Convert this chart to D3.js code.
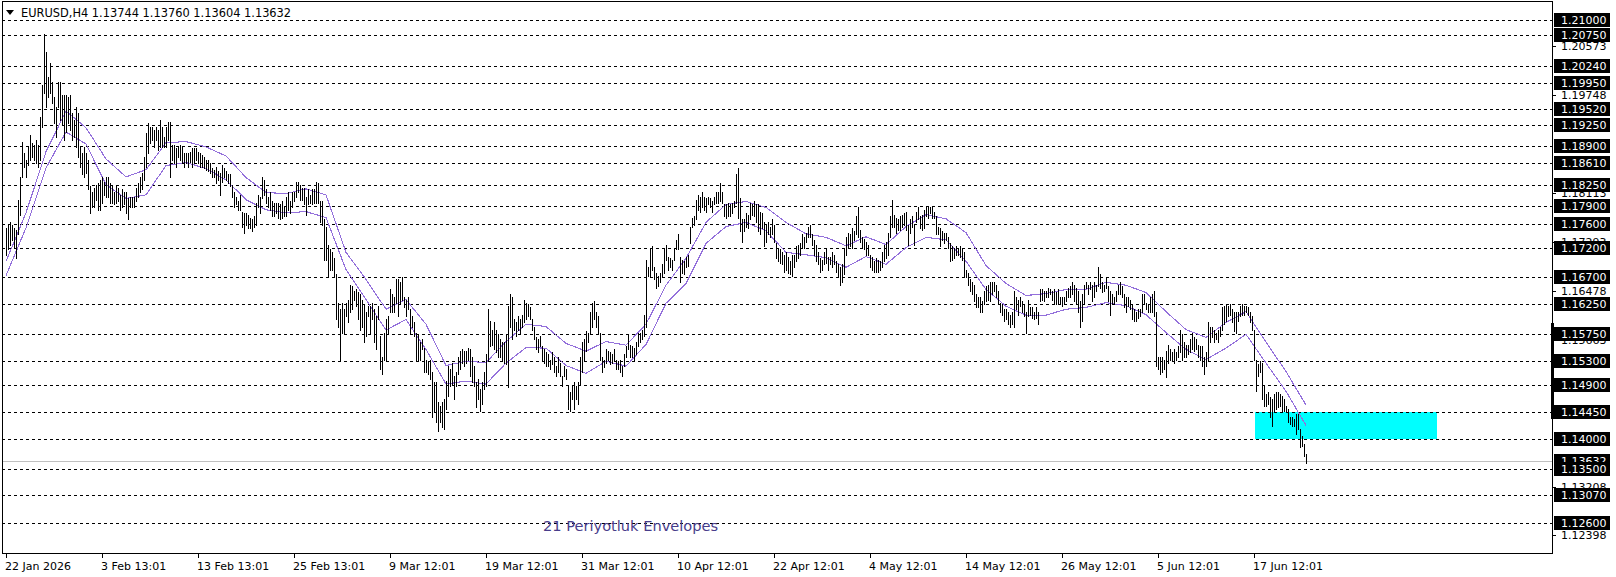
<!DOCTYPE html>
<html><head><meta charset="utf-8">
<script src="https://cdn.jsdelivr.net/npm/d3@7/dist/d3.min.js"></script>
<style>
html,body{margin:0;padding:0;background:#fff;}
svg{display:block;}
text{font-family:"DejaVu Sans",sans-serif;}
</style></head>
<body>
<svg id="chart" width="1616" height="577"></svg>
<script>
// ---------- DATA ----------
const symbolTitle = "EURUSD,H4  1.13744 1.13760 1.13604 1.13632";
const barHigh = [
1.1753,1.1758,1.1763,1.1757,1.1753,1.1750,1.1800,1.1837,1.1897,1.1878,
1.1867,1.1888,1.1908,1.1895,1.1892,1.1900,1.1892,1.1938,1.1992,1.2077,
1.2047,1.2005,1.2028,1.1997,1.1972,1.1955,1.1997,1.1997,1.1975,1.1975,
1.1975,1.1972,1.1975,1.1945,1.1933,1.1955,1.1945,1.1888,1.1878,1.1888,
1.1878,1.1867,1.1822,1.1812,1.1820,1.1825,1.1828,1.1833,1.1838,1.1830,
1.1838,1.1838,1.1828,1.1822,1.1812,1.1822,1.1820,1.1808,1.1817,1.1812,
1.1812,1.1803,1.1805,1.1805,1.1805,1.1820,1.1828,1.1838,1.1845,1.1872,
1.1912,1.1928,1.1922,1.1922,1.1917,1.1922,1.1917,1.1933,1.1922,1.1905,
1.1922,1.1930,1.1930,1.1892,1.1892,1.1887,1.1888,1.1892,1.1888,1.1878,
1.1878,1.1878,1.1880,1.1887,1.1887,1.1887,1.1880,1.1878,1.1875,1.1872,
1.1867,1.1867,1.1862,1.1853,1.1850,1.1855,1.1847,1.1845,1.1858,1.1853,
1.1848,1.1842,1.1842,1.1822,1.1812,1.1805,1.1797,1.1808,1.1780,1.1778,
1.1778,1.1775,1.1770,1.1767,1.1772,1.1795,1.1808,1.1805,1.1837,1.1833,
1.1817,1.1805,1.1812,1.1797,1.1795,1.1795,1.1795,1.1792,1.1797,1.1787,
1.1805,1.1812,1.1797,1.1812,1.1813,1.1830,1.1830,1.1825,1.1820,1.1820,
1.1805,1.1817,1.1808,1.1817,1.1817,1.1830,1.1828,1.1797,1.1797,1.1767,
1.1755,1.1725,1.1717,1.1712,1.1703,1.1675,1.1628,1.1617,1.1628,1.1617,
1.1628,1.1633,1.1658,1.1655,1.1647,1.1650,1.1645,1.1642,1.1633,1.1625,
1.1613,1.1622,1.1622,1.1628,1.1617,1.1605,1.1622,1.1572,1.1538,1.1578,
1.1600,1.1605,1.1650,1.1642,1.1638,1.1667,1.1667,1.1662,1.1670,1.1637,
1.1633,1.1637,1.1617,1.1605,1.1595,1.1578,1.1575,1.1562,1.1567,1.1553,
1.1533,1.1530,1.1533,1.1512,1.1495,1.1495,1.1462,1.1455,1.1462,1.1467,
1.1497,1.1522,1.1517,1.1528,1.1505,1.1512,1.1538,1.1547,1.1550,1.1547,
1.1547,1.1553,1.1550,1.1537,1.1522,1.1495,1.1500,1.1483,1.1495,1.1512,
1.1542,1.1617,1.1597,1.1583,1.1595,1.1583,1.1575,1.1567,1.1563,1.1562,
1.1575,1.1622,1.1642,1.1638,1.1600,1.1595,1.1605,1.1600,1.1608,1.1633,
1.1628,1.1625,1.1620,1.1600,1.1587,1.1570,1.1567,1.1572,1.1555,1.1550,
1.1545,1.1542,1.1533,1.1545,1.1538,1.1522,1.1538,1.1528,1.1505,1.1522,
1.1517,1.1488,1.1478,1.1488,1.1495,1.1488,1.1495,1.1538,1.1562,1.1567,
1.1580,1.1578,1.1613,1.1628,1.1630,1.1612,1.1605,1.1578,1.1538,1.1533,
1.1550,1.1547,1.1545,1.1542,1.1550,1.1533,1.1530,1.1533,1.1522,1.1542,
1.1555,1.1575,1.1558,1.1555,1.1553,1.1563,1.1578,1.1578,1.1583,1.1608,
1.1700,1.1688,1.1717,1.1722,1.1688,1.1678,1.1672,1.1678,1.1692,1.1717,
1.1725,1.1705,1.1703,1.1700,1.1717,1.1733,1.1742,1.1705,1.1700,1.1697,
1.1705,1.1707,1.1755,1.1770,1.1772,1.1800,1.1808,1.1805,1.1813,1.1805,
1.1803,1.1805,1.1803,1.1797,1.1805,1.1812,1.1813,1.1828,1.1813,1.1792,
1.1792,1.1795,1.1792,1.1795,1.1797,1.1842,1.1853,1.1803,1.1767,1.1767,
1.1778,1.1775,1.1795,1.1792,1.1797,1.1792,1.1792,1.1780,1.1778,1.1763,
1.1758,1.1762,1.1755,1.1767,1.1758,1.1728,1.1720,1.1717,1.1713,1.1708,
1.1713,1.1705,1.1697,1.1708,1.1708,1.1722,1.1725,1.1728,1.1742,1.1737,
1.1745,1.1755,1.1758,1.1742,1.1733,1.1725,1.1713,1.1703,1.1700,1.1712,
1.1720,1.1705,1.1705,1.1712,1.1708,1.1697,1.1692,1.1687,1.1692,1.1720,
1.1738,1.1745,1.1742,1.1753,1.1747,1.1772,1.1788,1.1750,1.1738,1.1735,
1.1730,1.1725,1.1708,1.1705,1.1697,1.1703,1.1700,1.1697,1.1712,1.1725,
1.1730,1.1745,1.1772,1.1800,1.1775,1.1770,1.1767,1.1772,1.1775,1.1778,
1.1780,1.1758,1.1767,1.1772,1.1758,1.1780,1.1788,1.1772,1.1775,1.1783,
1.1787,1.1788,1.1788,1.1788,1.1780,1.1772,1.1755,1.1753,1.1747,1.1745,
1.1745,1.1738,1.1728,1.1722,1.1720,1.1722,1.1720,1.1722,1.1717,1.1712,
1.1683,1.1678,1.1667,1.1662,1.1658,1.1642,1.1638,1.1638,1.1630,1.1647,
1.1655,1.1658,1.1663,1.1662,1.1663,1.1658,1.1647,1.1628,1.1625,1.1617,
1.1617,1.1612,1.1608,1.1613,1.1647,1.1637,1.1633,1.1638,1.1630,1.1625,
1.1612,1.1633,1.1620,1.1620,1.1613,1.1620,1.1613,1.1650,1.1650,1.1647,
1.1647,1.1653,1.1650,1.1647,1.1650,1.1645,1.1650,1.1638,1.1637,1.1637,
1.1647,1.1653,1.1655,1.1663,1.1658,1.1653,1.1647,1.1630,1.1642,1.1658,
1.1663,1.1658,1.1662,1.1658,1.1662,1.1658,1.1688,1.1675,1.1663,1.1658,
1.1670,1.1655,1.1647,1.1642,1.1637,1.1647,1.1658,1.1662,1.1655,1.1642,
1.1638,1.1637,1.1633,1.1625,1.1617,1.1613,1.1617,1.1617,1.1642,1.1642,
1.1628,1.1625,1.1638,1.1642,1.1647,1.1613,1.1538,1.1537,1.1538,1.1533,
1.1547,1.1558,1.1550,1.1545,1.1550,1.1545,1.1555,1.1583,1.1575,1.1563,
1.1558,1.1558,1.1567,1.1578,1.1570,1.1567,1.1558,1.1555,1.1555,1.1537,
1.1545,1.1595,1.1588,1.1588,1.1583,1.1578,1.1583,1.1588,1.1620,1.1622,
1.1625,1.1622,1.1625,1.1617,1.1613,1.1612,1.1613,1.1622,1.1625,1.1622,
1.1622,1.1620,1.1613,1.1605,1.1583,1.1533,1.1525,1.1530,1.1528,1.1488,
1.1475,1.1478,1.1470,1.1467,1.1475,1.1478,1.1478,1.1475,1.1472,1.1467,
1.1455,1.1450,1.1437,1.1437,1.1433,1.1442,1.1442,1.1417,1.1405,1.1392,1.1376
];
const barLow = [
1.1708,1.1717,1.1725,1.1733,1.1720,1.1703,1.1742,1.1775,1.1838,1.1855,
1.1838,1.1858,1.1867,1.1872,1.1867,1.1862,1.1855,1.1867,1.1922,1.1978,
1.1955,1.1972,1.1978,1.1962,1.1928,1.1905,1.1955,1.1933,1.1925,1.1900,
1.1913,1.1928,1.1917,1.1900,1.1905,1.1888,1.1872,1.1855,1.1842,1.1838,
1.1845,1.1817,1.1778,1.1788,1.1787,1.1800,1.1783,1.1783,1.1795,1.1808,
1.1805,1.1805,1.1795,1.1795,1.1792,1.1795,1.1797,1.1783,1.1787,1.1792,
1.1778,1.1767,1.1788,1.1788,1.1787,1.1797,1.1805,1.1813,1.1817,1.1833,
1.1855,1.1878,1.1895,1.1900,1.1888,1.1900,1.1883,1.1888,1.1888,1.1888,
1.1888,1.1900,1.1838,1.1867,1.1862,1.1855,1.1872,1.1867,1.1862,1.1855,
1.1862,1.1855,1.1863,1.1855,1.1863,1.1867,1.1862,1.1855,1.1855,1.1853,
1.1850,1.1847,1.1845,1.1838,1.1837,1.1828,1.1833,1.1808,1.1830,1.1837,
1.1833,1.1828,1.1822,1.1805,1.1787,1.1792,1.1783,1.1783,1.1755,1.1745,
1.1758,1.1753,1.1753,1.1747,1.1755,1.1758,1.1788,1.1778,1.1803,1.1808,
1.1795,1.1787,1.1783,1.1772,1.1772,1.1778,1.1770,1.1767,1.1770,1.1772,
1.1772,1.1783,1.1778,1.1788,1.1797,1.1805,1.1813,1.1800,1.1800,1.1792,
1.1775,1.1792,1.1795,1.1792,1.1795,1.1795,1.1795,1.1763,1.1758,1.1700,
1.1700,1.1672,1.1683,1.1683,1.1672,1.1600,1.1588,1.1533,1.1578,1.1578,
1.1605,1.1595,1.1613,1.1617,1.1633,1.1622,1.1600,1.1583,1.1588,1.1562,
1.1572,1.1605,1.1578,1.1600,1.1562,1.1550,1.1600,1.1517,1.1508,1.1533,
1.1533,1.1578,1.1612,1.1612,1.1612,1.1628,1.1605,1.1628,1.1633,1.1620,
1.1605,1.1617,1.1578,1.1588,1.1572,1.1533,1.1533,1.1533,1.1550,1.1513,
1.1512,1.1508,1.1500,1.1437,1.1445,1.1428,1.1413,1.1428,1.1420,1.1417,
1.1450,1.1472,1.1488,1.1492,1.1467,1.1488,1.1508,1.1517,1.1528,1.1522,
1.1528,1.1533,1.1505,1.1495,1.1488,1.1453,1.1467,1.1447,1.1458,1.1483,
1.1488,1.1533,1.1555,1.1558,1.1550,1.1545,1.1538,1.1538,1.1533,1.1528,
1.1525,1.1487,1.1588,1.1567,1.1583,1.1572,1.1583,1.1578,1.1588,1.1595,
1.1600,1.1605,1.1600,1.1583,1.1567,1.1550,1.1545,1.1555,1.1533,1.1528,
1.1522,1.1522,1.1517,1.1525,1.1512,1.1505,1.1512,1.1505,1.1488,1.1505,
1.1500,1.1450,1.1447,1.1467,1.1450,1.1467,1.1458,1.1492,1.1512,1.1533,
1.1547,1.1562,1.1578,1.1588,1.1600,1.1588,1.1578,1.1533,1.1512,1.1520,
1.1528,1.1533,1.1525,1.1528,1.1533,1.1517,1.1517,1.1512,1.1505,1.1522,
1.1537,1.1550,1.1538,1.1538,1.1533,1.1542,1.1555,1.1562,1.1567,1.1572,
1.1588,1.1672,1.1670,1.1683,1.1667,1.1653,1.1655,1.1662,1.1672,1.1678,
1.1700,1.1683,1.1687,1.1683,1.1700,1.1717,1.1717,1.1663,1.1678,1.1675,
1.1688,1.1690,1.1728,1.1755,1.1758,1.1767,1.1783,1.1780,1.1788,1.1783,
1.1780,1.1792,1.1787,1.1780,1.1792,1.1795,1.1795,1.1797,1.1795,1.1772,
1.1770,1.1772,1.1772,1.1778,1.1787,1.1795,1.1770,1.1747,1.1730,1.1747,
1.1755,1.1753,1.1767,1.1775,1.1772,1.1763,1.1747,1.1742,1.1753,1.1722,
1.1730,1.1742,1.1737,1.1742,1.1730,1.1703,1.1697,1.1695,1.1692,1.1680,
1.1683,1.1678,1.1675,1.1672,1.1687,1.1697,1.1703,1.1708,1.1720,1.1720,
1.1730,1.1737,1.1738,1.1725,1.1708,1.1697,1.1692,1.1680,1.1683,1.1692,
1.1695,1.1683,1.1692,1.1687,1.1692,1.1680,1.1670,1.1658,1.1662,1.1675,
1.1708,1.1720,1.1722,1.1720,1.1733,1.1742,1.1737,1.1730,1.1720,1.1717,
1.1708,1.1708,1.1687,1.1683,1.1680,1.1680,1.1680,1.1683,1.1687,1.1697,
1.1703,1.1708,1.1738,1.1755,1.1755,1.1745,1.1750,1.1750,1.1755,1.1758,
1.1750,1.1725,1.1745,1.1755,1.1725,1.1763,1.1767,1.1753,1.1750,1.1753,
1.1772,1.1770,1.1778,1.1770,1.1770,1.1742,1.1742,1.1722,1.1733,1.1728,
1.1732,1.1720,1.1697,1.1700,1.1703,1.1708,1.1708,1.1705,1.1700,1.1672,
1.1670,1.1658,1.1647,1.1642,1.1630,1.1620,1.1620,1.1612,1.1612,1.1625,
1.1630,1.1633,1.1630,1.1642,1.1647,1.1637,1.1625,1.1613,1.1608,1.1597,
1.1600,1.1592,1.1587,1.1592,1.1587,1.1617,1.1608,1.1622,1.1613,1.1605,
1.1578,1.1605,1.1608,1.1603,1.1600,1.1603,1.1592,1.1630,1.1633,1.1630,
1.1637,1.1638,1.1642,1.1633,1.1628,1.1625,1.1625,1.1625,1.1622,1.1628,
1.1630,1.1638,1.1637,1.1642,1.1630,1.1625,1.1613,1.1588,1.1597,1.1628,
1.1653,1.1642,1.1650,1.1630,1.1638,1.1647,1.1655,1.1653,1.1645,1.1647,
1.1653,1.1630,1.1608,1.1628,1.1625,1.1630,1.1642,1.1642,1.1637,1.1620,
1.1613,1.1622,1.1617,1.1600,1.1597,1.1597,1.1603,1.1605,1.1613,1.1625,
1.1617,1.1612,1.1612,1.1612,1.1605,1.1522,1.1517,1.1508,1.1512,1.1517,
1.1503,1.1528,1.1533,1.1530,1.1528,1.1533,1.1538,1.1545,1.1533,1.1538,
1.1538,1.1542,1.1545,1.1550,1.1547,1.1550,1.1538,1.1533,1.1522,1.1508,
1.1522,1.1533,1.1563,1.1570,1.1562,1.1567,1.1563,1.1572,1.1583,1.1592,
1.1597,1.1605,1.1608,1.1595,1.1580,1.1578,1.1597,1.1605,1.1608,1.1608,
1.1612,1.1608,1.1595,1.1583,1.1533,1.1480,1.1505,1.1513,1.1467,1.1455,
1.1455,1.1458,1.1437,1.1422,1.1445,1.1450,1.1453,1.1455,1.1445,1.1447,
1.1445,1.1428,1.1425,1.1422,1.1422,1.1408,1.1417,1.1387,1.1388,1.1372,1.1360
];
// Envelope (21) upper / lower band, read every 10 bars
const envStep = 10;
const envUpper = [
1.1697,1.1778,1.1880,1.1948,1.1920,1.1868,1.1838,1.1850,1.1895,1.1897,
1.1888,1.1873,1.1837,1.1812,1.1810,1.1818,1.1808,1.1712,1.1667,1.1617,
1.1633,1.1592,1.1523,1.1530,1.1528,1.1563,1.1592,1.1588,1.1560,1.1547,
1.1563,1.1557,1.1592,1.1657,1.1702,1.1762,1.1792,1.1797,1.1787,1.1762,
1.1743,1.1737,1.1723,1.1738,1.1725,1.1755,1.1775,1.1768,1.1745,1.1690,
1.1660,1.1640,1.1643,1.1650,1.1650,1.1662,1.1657,1.1645,1.1613,1.1583,
1.1570,1.1595,1.1613,1.1562,1.1513,1.1457];
const envLower = [
1.1673,1.1753,1.1853,1.1913,1.1893,1.1825,1.1802,1.1808,1.1857,1.1862,
1.1852,1.1833,1.1800,1.1783,1.1778,1.1780,1.1770,1.1683,1.1633,1.1582,
1.1600,1.1550,1.1492,1.1497,1.1492,1.1527,1.1553,1.1552,1.1523,1.1510,
1.1530,1.1522,1.1558,1.1627,1.1660,1.1727,1.1755,1.1762,1.1748,1.1712,
1.1708,1.1703,1.1687,1.1705,1.1692,1.1720,1.1737,1.1733,1.1697,1.1650,
1.1622,1.1607,1.1607,1.1617,1.1620,1.1628,1.1623,1.1608,1.1578,1.1550,
1.1533,1.1552,1.1575,1.1527,1.1480,1.1423];
const levelPrices = [1.21000,1.20750,1.20240,1.19950,1.19520,1.19250,1.18900,1.18610,1.18250,1.17900,1.17600,1.17200,1.16700,1.16250,1.15750,1.15300,1.14900,1.14450,1.14000,1.13500,1.13070,1.12600];
const axisTicks = [1.20573,1.19748,1.18113,1.17293,1.16478,1.15663,1.13208,1.12398];
const bidPrice = 1.13632;
const zoneTop = 1.14450, zoneBottom = 1.14000, zoneFrom = 624.5, zoneTo = 715.5;
const axisMarkTop = 1.1594, axisMarkBottom = 1.1434;
const dateLabels = ["22 Jan 2026","3 Feb 13:01","13 Feb 13:01","25 Feb 13:01","9 Mar 12:01","19 Mar 12:01","31 Mar 12:01","10 Apr 12:01","22 Apr 12:01","4 May 12:01","14 May 12:01","26 May 12:01","5 Jun 12:01","17 Jun 12:01"];
const dateStep = 48;
const noteText = "21 Periyotluk Envelopes";

// ---------- SCALES ----------
const svg = d3.select("#chart");
const L = 2, R = 1552, T = 1, B = 553;
const x = d3.scaleLinear().domain([0, barHigh.length - 1]).range([6, 1306]);
const y = d3.scaleLinear().domain([1.21, 1.126]).range([20, 523]);
const px = v => Math.round(v) + 0.5;

svg.append("rect").attr("width",1616).attr("height",577).attr("fill","#fff");

// cyan zone
svg.append("rect")
  .attr("x", Math.round(x(zoneFrom))).attr("y", Math.round(y(zoneTop)))
  .attr("width", Math.round(x(zoneTo)) - Math.round(x(zoneFrom)))
  .attr("height", Math.round(y(zoneBottom)) - Math.round(y(zoneTop)))
  .attr("fill", "#00ffff");

// dashed level lines
svg.append("g").selectAll("line").data(levelPrices).join("line")
  .attr("x1", L).attr("x2", R)
  .attr("y1", d => px(y(d))).attr("y2", d => px(y(d)))
  .attr("stroke", "#000").attr("stroke-width", 1)
  .attr("stroke-dasharray", "3,3").attr("shape-rendering","crispEdges");

// bid line
svg.append("line").attr("x1", L).attr("x2", R)
  .attr("y1", px(y(bidPrice))).attr("y2", px(y(bidPrice)))
  .attr("stroke", "#c0c0c0").attr("shape-rendering","crispEdges");

// envelopes
const envLine = d3.line().x((d,i) => x(i*envStep)).y(d => y(d));
[envUpper, envLower].forEach(arr => {
  svg.append("path").datum(arr).attr("d", envLine)
    .attr("fill","none").attr("stroke","#9370db").attr("stroke-width",1.1)
    .attr("shape-rendering","crispEdges");
});

// bars
svg.append("g").selectAll("line").data(barHigh).join("line")
  .attr("x1", (d,i) => px(x(i))).attr("x2", (d,i) => px(x(i)))
  .attr("y1", d => Math.round(y(d)))
  .attr("y2", (d,i) => Math.max(Math.round(y(barLow[i])) + 1, Math.round(y(d)) + 2))
  .attr("stroke", "#000").attr("stroke-width", 1).attr("shape-rendering","crispEdges");

// frame
svg.append("rect").attr("x", L + 0.5).attr("y", T + 0.5)
  .attr("width", R - L).attr("height", B - T)
  .attr("fill","none").attr("stroke","#000").attr("shape-rendering","crispEdges");

// header
svg.append("path").attr("d","M6,10 L14,10 L10,15 Z").attr("fill","#000");
svg.append("text").attr("x", 21).attr("y", 17).attr("font-size", 11.4).attr("fill","#000").text(symbolTitle);

// right axis tick labels
const ax = svg.append("g");
ax.selectAll("line").data(axisTicks).join("line")
  .attr("x1", R).attr("x2", R + 4).attr("y1", d => px(y(d))).attr("y2", d => px(y(d)))
  .attr("stroke","#000").attr("shape-rendering","crispEdges");
ax.selectAll("text").data(axisTicks).join("text")
  .attr("x", 1561).attr("y", d => y(d) + 4).attr("font-size", 11).attr("fill","#000")
  .text(d => d.toFixed(5));

// axis black mark
svg.append("rect").attr("x", R - 1).attr("y", Math.round(y(axisMarkTop)))
  .attr("width", 3).attr("height", Math.round(y(axisMarkBottom)) - Math.round(y(axisMarkTop)))
  .attr("fill","#000");

// price label boxes
const boxes = [bidPrice].concat(levelPrices);
const bx = svg.append("g").selectAll("g").data(boxes).join("g")
  .attr("transform", d => `translate(0,${Math.round(y(d))})`);
bx.append("rect").attr("x", 1554).attr("y", -7).attr("width", 56).attr("height", 14).attr("fill","#000");
bx.append("text").attr("x", 1561).attr("y", 4).attr("font-size", 11).attr("fill","#fff")
  .text(d => d.toFixed(5));

// bottom time axis
const tg = svg.append("g").selectAll("g").data(dateLabels).join("g")
  .attr("transform", (d,i) => `translate(${Math.round(x(i*dateStep))},0)`);
tg.append("line").attr("x1", 0.5).attr("x2", 0.5).attr("y1", B).attr("y2", B + 5)
  .attr("stroke","#000").attr("shape-rendering","crispEdges");
tg.append("text").attr("x", -1).attr("y", 570).attr("font-size", 11).attr("fill","#000").text(d => d);

// note text
svg.append("text").attr("x", x(268.5)).attr("y", 531)
  .attr("font-family","'Liberation Sans', Arial, sans-serif").attr("font-size", 14.6)
  .attr("fill","#483d8b").text(noteText);
</script>
</body></html>
